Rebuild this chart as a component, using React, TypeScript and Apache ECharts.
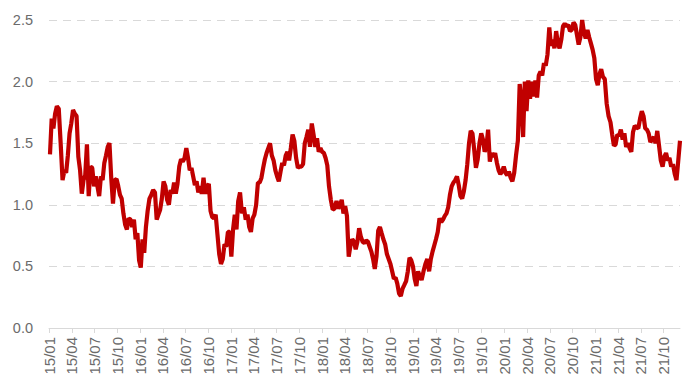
import React, { useEffect, useRef } from 'react';
import * as echarts from 'echarts';

// weekly observations, first one on this date, one value per week
const startDate = '2015-01-05';

const values: number[] = [
  // 2015 Q1
  1.41, 1.70, 1.62, 1.74, 1.80, 1.78, 1.50, 1.20, 1.28, 1.26, 1.40, 1.58, 1.66,
  // 2015 Q2
  1.77, 1.74, 1.72, 1.39, 1.28, 1.09, 1.20, 1.24, 1.49, 1.07, 1.31, 1.30, 1.15,
  // 2015 Q3
  1.23, 1.15, 1.07, 1.23, 1.20, 1.34, 1.40, 1.47, 1.50, 1.22, 1.01, 1.20, 1.21,
  // 2015 Q4
  1.15, 1.08, 1.05, 0.93, 0.84, 0.80, 0.89, 0.88, 0.82, 0.88, 0.72, 0.77, 0.55,
  // 2016 Q1
  0.49, 0.72, 0.61, 0.82, 0.95, 1.05, 1.08, 1.12, 1.10, 0.88, 0.92, 0.96, 1.05,
  // 2016 Q2
  1.19, 1.15, 1.04, 1.00, 1.12, 1.09, 1.18, 1.09, 1.17, 1.31, 1.37, 1.35, 1.38,
  // 2016 Q3
  1.46, 1.38, 1.28, 1.30, 1.23, 1.16, 1.19, 1.10, 1.15, 1.09, 1.22, 1.09, 1.15,
  // 2016 Q4
  1.17, 0.95, 0.90, 0.89, 0.92, 0.76, 0.60, 0.52, 0.56, 0.68, 0.66, 0.78, 0.78,
  // 2017 Q1
  0.58, 0.80, 0.92, 0.80, 1.03, 1.10, 0.93, 0.98, 0.88, 0.92, 0.82, 0.78, 0.89,
  // 2017 Q2
  0.92, 1.00, 1.18, 1.18, 1.22, 1.30, 1.37, 1.42, 1.46, 1.50, 1.40, 1.36, 1.28,
  // 2017 Q3
  1.23, 1.19, 1.27, 1.34, 1.32, 1.40, 1.43, 1.36, 1.46, 1.57, 1.52, 1.38, 1.30,
  // 2017 Q4
  1.31, 1.31, 1.33, 1.50, 1.55, 1.61, 1.47, 1.66, 1.57, 1.47, 1.54, 1.43, 1.46,
  // 2018 Q1
  1.43, 1.42, 1.38, 1.32, 1.15, 1.04, 0.96, 0.97, 1.03, 0.97, 1.00, 1.04, 0.93,
  // 2018 Q2
  0.99, 0.91, 0.58, 0.67, 0.72, 0.70, 0.64, 0.70, 0.81, 0.74, 0.70, 0.69, 0.71,
  // 2018 Q3
  0.70, 0.66, 0.62, 0.56, 0.48, 0.58, 0.79, 0.82, 0.77, 0.72, 0.68, 0.60, 0.56,
  // 2018 Q4
  0.52, 0.46, 0.40, 0.41, 0.36, 0.28, 0.26, 0.32, 0.35, 0.38, 0.46, 0.57, 0.55,
  // 2019 Q1
  0.50, 0.40, 0.34, 0.46, 0.42, 0.39, 0.46, 0.52, 0.56, 0.46, 0.56, 0.62, 0.67,
  // 2019 Q2
  0.72, 0.78, 0.89, 0.86, 0.88, 0.91, 0.93, 0.98, 1.08, 1.15, 1.18, 1.20, 1.23,
  // 2019 Q3
  1.16, 1.07, 1.05, 1.11, 1.20, 1.33, 1.50, 1.60, 1.58, 1.45, 1.30, 1.37, 1.50,
  // 2019 Q4
  1.58, 1.53, 1.43, 1.47, 1.61, 1.35, 1.42, 1.39, 1.42, 1.34, 1.28, 1.25, 1.27,
  // 2020 Q1
  1.31, 1.26, 1.24, 1.27, 1.22, 1.19, 1.26, 1.40, 1.52, 1.98, 1.85, 1.55, 2.00,
  // 2020 Q2
  1.76, 2.01, 1.86, 2.00, 1.88, 2.01, 1.87, 2.05, 2.08, 2.05, 2.15, 2.13, 2.22,
  // 2020 Q3
  2.44, 2.29, 2.34, 2.27, 2.41, 2.31, 2.27, 2.34, 2.45, 2.47, 2.45, 2.46, 2.41,
  // 2020 Q4
  2.42, 2.48, 2.46, 2.38, 2.30, 2.36, 2.50, 2.40, 2.35, 2.42, 2.36, 2.31, 2.26,
  // 2021 Q1
  2.19, 2.02, 1.97, 2.06, 2.10, 2.04, 2.02, 1.82, 1.72, 1.67, 1.57, 1.48, 1.49,
  // 2021 Q2
  1.57, 1.56, 1.61, 1.53, 1.58, 1.47, 1.50, 1.46, 1.43, 1.59, 1.64, 1.63, 1.62,
  // 2021 Q3
  1.70, 1.76, 1.72, 1.62, 1.61, 1.58, 1.51, 1.53, 1.55, 1.50, 1.60, 1.48, 1.36,
  // 2021 Q4
  1.31, 1.39, 1.42, 1.36, 1.38, 1.31, 1.33, 1.25, 1.20, 1.36, 1.52,
];

const xTickLabels = [
  '15/01', '15/04', '15/07', '15/10',
  '16/01', '16/04', '16/07', '16/10',
  '17/01', '17/04', '17/07', '17/10',
  '18/01', '18/04', '18/07', '18/10',
  '19/01', '19/04', '19/07', '19/10',
  '20/01', '20/04', '20/07', '20/10',
  '21/01', '21/04', '21/07', '21/10',
];

const yTicks = [0, 0.5, 1.0, 1.5, 2.0, 2.5];

function buildDates(start: string, n: number): Date[] {
  const [y, m, d] = start.split('-').map(Number);
  const out: Date[] = [];
  for (let i = 0; i < n; i++) out.push(new Date(Date.UTC(y, m - 1, d + 7 * i)));
  return out;
}

function monthOffset(dt: Date): number {
  const y = dt.getUTCFullYear();
  const m = dt.getUTCMonth();
  const dim = new Date(Date.UTC(y, m + 1, 0)).getUTCDate();
  return (y - 2015) * 12 + m + (dt.getUTCDate() - 1) / dim;
}

function labelOffset(lbl: string): number {
  const [yy, mm] = lbl.split('/').map(Number);
  return (yy - 15) * 12 + (mm - 1);
}

export default function App() {
  const ref = useRef<HTMLDivElement>(null);

  useEffect(() => {
    if (!ref.current) return;
    const chart = echarts.init(ref.current, undefined, { renderer: 'svg' });
    const dates = buildDates(startDate, values.length);
    const data = dates.map((dt, i) => [monthOffset(dt), values[i]]);
    const tickVals = xTickLabels.map(labelOffset);
    const labelMap: Record<string, string> = {};
    xTickLabels.forEach((l) => (labelMap[String(labelOffset(l))] = l));
    const font = "'Liberation Sans', Arial, sans-serif";

    chart.setOption({
      animation: false,
      backgroundColor: '#ffffff',
      textStyle: { fontFamily: font },
      grid: { left: 49, right: 20, top: 20, bottom: 61 },
      xAxis: {
        type: 'value',
        min: 0,
        max: data[data.length - 1][0],
        splitLine: { show: false },
        axisLine: { show: true, lineStyle: { color: '#d9d9d9', width: 1 } },
        axisTick: {
          show: true,
          customValues: tickVals,
          length: 5,
          lineStyle: { color: '#d9d9d9' },
        },
        axisLabel: {
          customValues: tickVals,
          rotate: 90,
          margin: 9,
          color: '#6b6b6b',
          fontSize: 15,
          fontFamily: font,
          formatter: (v: number) => labelMap[String(Math.round(v))] ?? '',
        },
      },
      yAxis: {
        type: 'value',
        min: yTicks[0],
        max: yTicks[yTicks.length - 1],
        interval: 0.5,
        axisLine: { show: false },
        axisTick: { show: false },
        axisLabel: {
          color: '#6b6b6b',
          fontSize: 14.5,
          margin: 16,
          fontFamily: font,
          formatter: (v: number) => v.toFixed(1),
        },
        splitLine: {
          show: true,
          lineStyle: { color: '#d9d9d9', type: [8, 6], width: 1 },
        },
      },
      series: [
        {
          type: 'line',
          data,
          showSymbol: false,
          symbol: 'none',
          lineStyle: { color: '#C00000', width: 4.2 },
          itemStyle: { color: '#C00000' },
        },
      ],
    });
    return () => chart.dispose();
  }, []);

  return (
    <div
      ref={ref}
      style={{ position: 'fixed', left: 0, top: 0, width: 700, height: 389, background: '#fff' }}
    />
  );
}
